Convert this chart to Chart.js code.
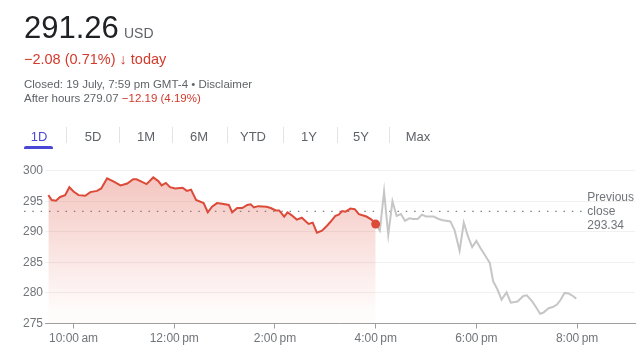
<!DOCTYPE html>
<html>
<head>
<meta charset="utf-8">
<script src="https://cdn.jsdelivr.net/npm/chart.js@4.4.1/dist/chart.umd.min.js"></script>
<style>
  html, body { margin: 0; padding: 0; background: #fff; }
  body { width: 640px; height: 360px; position: relative; overflow: hidden;
         font-family: Arial, "Liberation Sans", sans-serif; }
  #chart { position: absolute; left: 0; top: 0; }
  .t { position: absolute; white-space: nowrap; line-height: 1; }
  .price { left: 24px; top: 12px; font-size: 31px; color: #202124; }
  .cur { left: 124px; top: 26px; font-size: 14px; color: #5f6368; }
  .chg { left: 24px; top: 52px; font-size: 14.5px; color: #d23a2c; }
  .chg b { font-weight: bold; }
  .info { left: 24px; font-size: 11.5px; color: #5f6368; }
  .red { color: #d23a2c; }
  .tab { top: 130px; font-size: 13px; color: #5f6368; transform: translateX(-50%); }
  .tab.on { color: #4b47d6; }
  .sep { position: absolute; top: 127px; width: 1px; height: 16px; background: #e3e3e3; }
  .ul { position: absolute; left: 24px; top: 146px; width: 29px; height: 3px;
        background: #4b47d6; border-radius: 2px 2px 0 0; }
</style>
</head>
<body>
<canvas id="chart" width="640" height="360"></canvas>

<div class="t price">291.26</div>
<div class="t cur">USD</div>
<div class="t chg">−2.08 (0.71%) <b>↓</b> today</div>
<div class="t info" style="top:79px">Closed: 19 July, 7:59 pm GMT-4 • Disclaimer</div>
<div class="t info" style="top:93px">After hours 279.07 <span class="red">−12.19 (4.19%)</span></div>

<div id="tabs"></div>

<script>
// --- Data ---
const tabLabels = ['1D', '5D', '1M', '6M', 'YTD', '1Y', '5Y', 'Max'];

// minutes since midnight
const sessionTimes = [570, 574, 579, 584, 590, 595, 600, 606, 614, 620,
  628, 633, 640, 648, 656, 664, 671, 675, 681, 687,
  695, 701, 705, 710, 715, 721, 730, 735, 740, 746,
  755, 760, 765, 771, 777, 785, 789, 795, 801, 807,
  811, 815, 820, 830, 835, 841, 845, 851, 855, 860,
  866, 872, 880, 885, 890, 896, 902, 906, 912, 916,
  920, 924, 930, 935, 940, 949, 955, 960];
const sessionPrices = [296.0, 295.2, 295.1, 295.7, 296.0, 297.3, 296.6, 296.0, 295.9, 296.5,
  296.7, 297.1, 298.75, 298.2, 297.6, 297.9, 298.6, 298.6, 298.2, 297.8,
  298.9, 298.3, 297.6, 298.0, 297.3, 297.1, 297.2, 296.7, 296.9, 295.2,
  294.7, 293.2, 294.1, 294.7, 294.6, 294.4, 293.2, 293.9, 293.9, 294.4,
  294.5, 294.0, 294.2, 294.1, 293.9, 293.5, 293.5, 292.5, 293.2, 292.7,
  292.0, 292.3, 291.3, 291.5, 289.85, 290.2, 291.0, 291.6, 292.6, 292.8,
  293.4, 293.3, 293.8, 293.7, 292.9, 292.5, 292.0, 291.26];

const afterTimes = [960, 965, 970, 975, 980, 985, 990, 995, 1000, 1005,
  1010, 1015, 1020, 1025, 1029, 1035, 1040, 1049, 1054, 1060,
  1065, 1070, 1075, 1080, 1085, 1091, 1096, 1100, 1105, 1110,
  1116, 1121, 1129, 1136, 1140, 1146, 1150, 1156, 1160, 1166,
  1171, 1176, 1180, 1185, 1190, 1195, 1199];
const afterPrices = [291.26, 290.2, 296.6, 289.5, 295.0, 292.6, 292.9, 291.8, 292.2, 292.1,
  292.1, 292.8, 292.5, 292.5, 292.5, 292.1, 291.9, 291.7, 290.3, 286.9,
  291.5, 289.25, 287.5, 288.5, 287.3, 286.0, 284.9, 281.9, 280.6, 278.9,
  280.1, 278.4, 278.6, 279.5, 279.6, 278.7, 277.9, 276.6, 276.8, 277.5,
  277.7, 278.1, 278.8, 280.0, 279.9, 279.5, 279.07];

const previousClose = 293.34;
const prevCloseSpan = [541, 1211];
const xTicks = [600, 720, 840, 960, 1080, 1200];
const yTicks = [275, 280, 285, 290, 295, 300];

// --- Tabs ---
const tabCenters = [39, 93, 146, 199, 253, 309, 361, 418];
const sepX = [66, 119, 172, 227, 283, 337, 389];
const tabsEl = document.getElementById('tabs');
tabLabels.forEach((label, i) => {
    const d = document.createElement('div');
    d.className = 't tab' + (i === 0 ? ' on' : '');
    d.style.left = tabCenters[i] + 'px';
    d.innerText = label;
    tabsEl.appendChild(d);
});
sepX.forEach(x => {
    const s = document.createElement('div');
    s.className = 'sep';
    s.style.left = x + 'px';
    tabsEl.appendChild(s);
});
const ul = document.createElement('div');
ul.className = 'ul';
tabsEl.appendChild(ul);

// --- Chart ---
function fmtTime(m) {
    const h = Math.floor(m / 60), mm = m % 60;
    const h12 = ((h + 11) % 12) + 1;
    return h12 + ':' + String(mm).padStart(2, '0') + '\u2009' + (h < 12 ? 'am' : 'pm');
}

const grey = '#70757a';
Chart.defaults.font.family = 'Arial, "Liberation Sans", sans-serif';
Chart.defaults.font.size = 12;
Chart.defaults.color = grey;

const prevLabel = {
    id: 'prevLabel',
    afterDatasetsDraw(chart) {
        const { ctx, scales: { x, y } } = chart;
        const px = x.getPixelForValue(prevCloseSpan[1]) + 1;
        const py = y.getPixelForValue(previousClose);
        ctx.save();
        ctx.font = '12px Arial, "Liberation Sans", sans-serif';
        ctx.fillStyle = grey;
        ctx.textBaseline = 'middle';
        ctx.fillText('Previous', px, py - 14);
        ctx.fillText('close', px, py);
        ctx.fillText(previousClose.toFixed(2), px, py + 14);
        ctx.restore();
    }
};

new Chart(document.getElementById('chart'), {
    type: 'line',
    data: {
        datasets: [
            {
                data: sessionTimes.map((t, i) => ({ x: t, y: sessionPrices[i] })),
                borderColor: '#dc4a38',
                borderWidth: 2,
                tension: 0,
                fill: 'start',
                backgroundColor: (c) => {
                    const area = c.chart.chartArea;
                    if (!area) return 'rgba(220,74,56,0.2)';
                    const g = c.chart.ctx.createLinearGradient(0, area.top, 0, area.top + 140);
                    g.addColorStop(0, 'rgba(220,74,56,0.33)');
                    g.addColorStop(1, 'rgba(220,74,56,0.02)');
                    return g;
                },
                pointRadius: sessionTimes.map((t, i) => i === sessionTimes.length - 1 ? 4.5 : 0),
                pointBackgroundColor: '#dc4a38',
                pointBorderWidth: 0,
                order: 1
            },
            {
                data: afterTimes.map((t, i) => ({ x: t, y: afterPrices[i] })),
                borderColor: '#c6c6c6',
                borderWidth: 2,
                tension: 0,
                pointRadius: 0,
                fill: false,
                order: 2
            },
            {
                data: prevCloseSpan.map(t => ({ x: t, y: previousClose })),
                borderColor: '#7d8287',
                borderWidth: 1.4,
                borderDash: [1.5, 6.8],
                pointRadius: 0,
                fill: false,
                clip: false,
                order: 3
            }
        ]
    },
    options: {
        responsive: false,
        animation: false,
        layout: { padding: { top: 170.7, right: 5, left: 0, bottom: 0 } },
        plugins: { legend: { display: false }, tooltip: { enabled: false } },
        scales: {
            x: {
                type: 'linear',
                min: 566,
                max: 1269,
                afterFit: (s) => { s.height = 36.5; },
                afterBuildTicks: (s) => { s.ticks = xTicks.map(v => ({ value: v })); },
                ticks: { callback: (v) => fmtTime(v), padding: 3, maxRotation: 0, autoSkip: false },
                grid: { drawOnChartArea: false, drawTicks: true, tickLength: 5, tickColor: '#9e9e9e' },
                border: { color: '#9e9e9e', width: 1 }
            },
            y: {
                min: 275,
                max: 300,
                afterFit: (s) => { s.width = 45; },
                afterBuildTicks: (s) => { s.ticks = yTicks.map(v => ({ value: v })); },
                ticks: { padding: 2 },
                grid: { color: '#f1f1f1', drawTicks: false },
                border: { display: false }
            }
        }
    },
    plugins: [prevLabel]
});
</script>
</body>
</html>
